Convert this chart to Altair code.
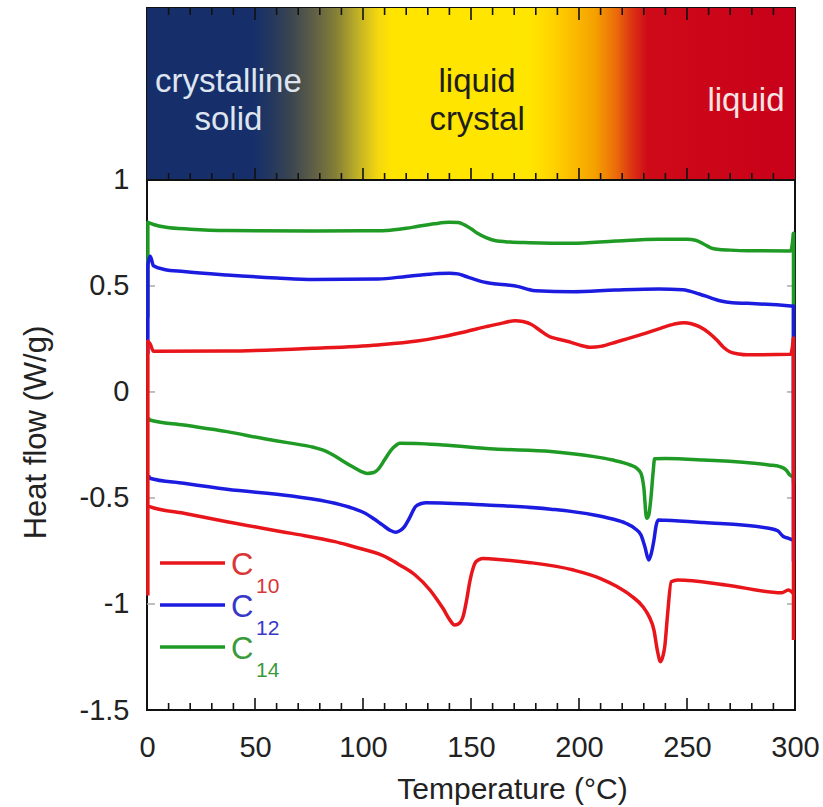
import altair as alt
import pandas as pd

# ---------------------------------------------------------------- data
# DSC traces: heating (upper) and cooling (lower) branches, (T in °C, heat flow in W/g)
C10_HEAT = [(0.4, 0.24), (1.5, 0.225), (3, 0.192), (37, 0.193), (77, 0.206), (107, 0.222),
            (125, 0.240), (137, 0.261), (147, 0.283), (157, 0.308), (165, 0.326), (170.4, 0.336),
            (174, 0.332), (178, 0.318), (182, 0.290), (186, 0.263), (190, 0.250), (195, 0.238),
            (200, 0.222), (205.6, 0.211), (210, 0.215), (217.6, 0.237), (228, 0.268), (237.7, 0.300),
            (244, 0.320), (248.7, 0.327), (252, 0.322), (255.7, 0.308), (260, 0.280), (263.8, 0.245),
            (267, 0.210), (269.8, 0.190), (274, 0.179), (277.8, 0.175), (298, 0.178), (299.3, 0.255)]
C10_COOL = [(1.0, -0.54), (1.2, -0.541), (17, -0.572), (37, -0.612), (67, -0.667), (87, -0.706),
            (93, -0.722), (100, -0.742), (107, -0.763), (112, -0.786), (117, -0.816), (124, -0.862),
            (131, -0.934), (134, -0.975), (137.3, -1.025), (140, -1.072), (142.3, -1.099), (144, -1.095),
            (146.3, -1.060), (148, -0.98), (149.3, -0.902), (151, -0.83), (152.4, -0.800), (155.4, -0.785),
            (160, -0.788), (177.5, -0.805), (197.5, -0.840), (210, -0.880), (217.6, -0.918), (224, -0.96),
            (229.6, -1.013), (232.5, -1.06), (234.7, -1.123), (236.3, -1.22), (237.7, -1.272), (239, -1.24),
            (239.7, -1.201), (241, -1.05), (242.7, -0.895), (245.7, -0.887), (267.8, -0.910),
            (293.9, -0.947), (296.9, -0.934), (299.3, -0.95)]

C12_HEAT = [(0.4, 0.60), (1.5, 0.64), (3, 0.595), (8, 0.578), (17, 0.568), (37, 0.552), (60, 0.538),
            (77, 0.531), (107, 0.533), (120, 0.545), (127, 0.552), (135, 0.559), (140, 0.560),
            (144, 0.557), (147, 0.547), (152, 0.530), (157, 0.516), (162, 0.509), (167, 0.505),
            (172, 0.497), (176, 0.485), (180, 0.477), (197, 0.473), (217, 0.481), (237, 0.486),
            (248, 0.482), (255.7, 0.462), (261, 0.444), (265.7, 0.429), (271, 0.421), (278, 0.418),
            (298, 0.406), (299.3, 0.405)]
C12_COOL = [(1.0, -0.40), (1.2, -0.407), (17, -0.431), (37, -0.459), (67, -0.491), (87, -0.525),
            (95, -0.548), (101, -0.572), (105, -0.598), (109, -0.627), (112.5, -0.652), (115.2, -0.662),
            (117.5, -0.652), (119.2, -0.635), (121.5, -0.595), (124.3, -0.541), (127, -0.526),
            (129.3, -0.522), (157, -0.533), (187, -0.553), (207, -0.580), (215, -0.598), (221.6, -0.619),
            (226, -0.645), (228.7, -0.675), (230.5, -0.73), (232.3, -0.792), (233.5, -0.76),
            (234.7, -0.698), (235.7, -0.63), (236.7, -0.604), (240, -0.605), (257.7, -0.616),
            (287.9, -0.643), (292, -0.655), (294.6, -0.682), (297, -0.69), (299.3, -0.70)]

C14_HEAT = [(0.4, 0.80), (3, 0.79), (8.8, 0.777), (20, 0.768), (37, 0.761), (77, 0.759), (100, 0.760),
            (111, 0.762), (120, 0.772), (125, 0.780), (133, 0.793), (140, 0.800), (144, 0.799),
            (147, 0.788), (150, 0.770), (153, 0.749), (157, 0.728), (161, 0.714), (168, 0.707),
            (177, 0.704), (197, 0.701), (217, 0.712), (237, 0.720), (250, 0.720), (254, 0.716),
            (257.7, 0.698), (261, 0.680), (264, 0.673), (270, 0.669), (278, 0.666), (298, 0.665),
            (299.3, 0.749)]
C14_COOL = [(1.0, -0.128), (1.2, -0.132), (17, -0.156), (37, -0.187), (55, -0.222), (65, -0.239),
            (77, -0.261), (83, -0.280), (87, -0.302), (91, -0.328), (95, -0.352), (99, -0.374),
            (102, -0.384), (105, -0.380), (107, -0.365), (110, -0.320), (113, -0.274), (115.5, -0.250),
            (117, -0.242), (125, -0.243), (137, -0.250), (161, -0.269), (187, -0.281), (207, -0.305),
            (215, -0.320), (223.6, -0.344), (227, -0.362), (228.7, -0.384), (230, -0.45), (231.3, -0.596),
            (232.3, -0.58), (233.3, -0.50), (234.3, -0.38), (235, -0.315), (240, -0.314), (257.7, -0.321),
            (287.9, -0.344), (293, -0.352), (295.9, -0.368), (297.5, -0.39), (299.3, -0.40)]

# isothermal holds at the start (0 °C) and at the turning point (300 °C): (T, from, to)
C10_HOLDS = [(0.4, -0.96, 0.24), (299.3, 0.255, -1.17)]
C12_HOLDS = [(0.4, 0.18, 0.60), (299.3, 0.405, -0.80)]
C14_HOLDS = [(0.4, 0.35, 0.80), (299.3, 0.749, -0.431)]

SERIES = ["10", "12", "14"]
LINE_COLORS = ["#e8161b", "#1c1ce0", "#1f9a24"]
TEXT_COLORS = ["#d93636", "#3737c8", "#3a9a3a"]

# phase band across the top
PHASE_LABELS = ["crystalline\nsolid", "liquid\ncrystal", "liquid"]
PHASE_T = [37.7, 152.8, 277.3]
PHASE_Q = [1.462, 1.462, 1.3726]
PHASE_COLORS = ["#dfe5ef", "#1e1e1e", "#f6e4e4"]
BAND_STOPS = [(0.0, "#162f6b"), (0.163, "#162f6b"), (0.19, "#23375f"), (0.223, "#3c4650"),
              (0.257, "#5f5f46"), (0.29, "#827d37"), (0.324, "#beaf28"), (0.357, "#f5d70f"),
              (0.377, "#ffe400"), (0.591, "#ffe600"), (0.625, "#ffd400"), (0.658, "#fbbb00"),
              (0.692, "#f5a000"), (0.725, "#ea6a0a"), (0.745, "#de3a12"), (0.772, "#cf0a18"),
              (1.0, "#c8001a")]

X_TICKS = [0, 50, 100, 150, 200, 250, 300]
X_MINOR = [t for t in range(10, 300, 10) if t % 50]
Y_TICKS = [-1.5, -1, -0.5, 0, 0.5, 1]

# ---------------------------------------------------------------- layout
W, H = 648, 702
Y_LO, Y_HI, BAND_TOP = -1.5, 1.0, 1.811
BAND_PX = 172          # pixel row of the band / plot boundary
FONT = "Liberation Sans"

xs = alt.Scale(domain=[0, 300], nice=False, zero=False)
ys = alt.Scale(domain=[Y_LO, BAND_TOP], nice=False, zero=False)

x_axis = alt.Axis(values=X_TICKS, ticks=False, domain=False, grid=False, labelFlush=False,
                  labelFontSize=29, labelPadding=23, labelColor="#222", labelOverlap=False,
                  title="Temperature (°C)", titleFontSize=30, titleFontWeight="normal",
                  titleColor="#222", titleX=365, titleY=88, titleAlign="center",
                  titleBaseline="alphabetic")
y_axis = alt.Axis(values=Y_TICKS, ticks=False, domain=False, grid=False, labelFontSize=29,
                  labelPadding=18, labelColor="#222", labelOverlap=False,
                  labelExpr="datum.value < 0 ? '-' + format(-datum.value, '~g') : format(datum.value, '~g')",
                  title="Heat flow (W/g)", titleFontSize=31, titleFontWeight="normal",
                  titleColor="#222", titleAngle=270, titleX=-102, titleY=424,
                  titleAlign="center", titleBaseline="alphabetic")

# gradient band
band_df = pd.DataFrame({"t0": [0], "t1": [300], "q0": [Y_HI], "q1": [BAND_TOP]})
band = alt.Chart(band_df).mark_rect(
    fill=alt.Gradient(gradient="linear", x1=0, x2=1, y1=0, y2=0,
                      stops=[alt.GradientStop(offset=o, color=c) for o, c in BAND_STOPS])
).encode(
    x=alt.X("t0:Q", scale=xs, axis=x_axis),
    x2="t1:Q",
    y=alt.Y("q0:Q", scale=ys, axis=y_axis),
    y2="q1:Q",
)

phase_df = pd.DataFrame({"label": PHASE_LABELS, "t": PHASE_T, "col": PHASE_COLORS, "q": PHASE_Q})
phase_text = alt.Chart(phase_df).mark_text(
    fontSize=33, lineBreak="\n", lineHeight=38, align="center", baseline="middle", font=FONT
).encode(x=alt.X("t:Q", scale=xs), y=alt.Y("q:Q", scale=ys),
         text="label:N", color=alt.Color("col:N", scale=None))

separator = alt.Chart(pd.DataFrame({"q": [Y_HI]})).mark_rule(color="#111", strokeWidth=2).encode(
    y=alt.Y("q:Q", scale=ys), x=alt.value(0), x2=alt.value(W))

# tick marks (inward)
major_df = pd.DataFrame({"t": X_TICKS[1:-1]})
minor_df = pd.DataFrame({"t": X_MINOR})
tick_layers = []
for df, ln in [(major_df, 12), (minor_df, 7)]:
    for y0, y1 in [(H, H - ln), (BAND_PX, BAND_PX - ln), (0, ln)]:
        tick_layers.append(
            alt.Chart(df).mark_rule(color="#111", strokeWidth=1.6).encode(
                x=alt.X("t:Q", scale=xs), y=alt.value(y0), y2=alt.value(y1)))
ytick_df = pd.DataFrame({"q": [-1, -0.5, 0, 0.5]})
for x0, x1 in [(0, 8), (W, W - 8)]:
    tick_layers.append(
        alt.Chart(ytick_df).mark_rule(color="#aaaaaa", strokeWidth=1.5).encode(
            y=alt.Y("q:Q", scale=ys), x=alt.value(x0), x2=alt.value(x1)))

# DSC curves, drawn C14 first so C10 sits on top
curve_layers = []
branches = {"10": (C10_HEAT, C10_COOL, C10_HOLDS),
            "12": (C12_HEAT, C12_COOL, C12_HOLDS),
            "14": (C14_HEAT, C14_COOL, C14_HOLDS)}
for idx in [2, 1, 0]:
    key = SERIES[idx]
    heat, cool, holds = branches[key]
    col = LINE_COLORS[idx]
    for branch in (heat, cool):
        df = pd.DataFrame(branch, columns=["t", "q"])
        curve_layers.append(
            alt.Chart(df).mark_line(color=col, strokeWidth=3.5, interpolate="monotone",
                                    strokeJoin="round", strokeCap="round").encode(
                x=alt.X("t:Q", scale=xs), y=alt.Y("q:Q", scale=ys)))
    hold_df = pd.DataFrame(holds, columns=["t", "q0", "q1"])
    curve_layers.append(
        alt.Chart(hold_df).mark_rule(color=col, strokeWidth=3.5).encode(
            x=alt.X("t:Q", scale=xs), y=alt.Y("q0:Q", scale=ys), y2="q1:Q"))

# legend: C with subscripted carbon number
legend_layers = []
one = pd.DataFrame({"k": [0]})
for i, key in enumerate(SERIES):
    base = 555 + 42 * i
    legend_layers.append(
        alt.Chart(one).mark_rule(color=LINE_COLORS[i], strokeWidth=3.5).encode(
            x=alt.value(13), x2=alt.value(78), y=alt.value(base)))
    legend_layers.append(
        alt.Chart(one).mark_text(text="C", fontSize=31, align="left", baseline="alphabetic",
                                 color=TEXT_COLORS[i], font=FONT).encode(
            x=alt.value(84), y=alt.value(base + 12)))
    legend_layers.append(
        alt.Chart(one).mark_text(text=key, fontSize=21, align="left", baseline="alphabetic",
                                 color=TEXT_COLORS[i], font=FONT).encode(
            x=alt.value(109), y=alt.value(base + 30)))

chart = alt.layer(band, phase_text, separator, *tick_layers, *curve_layers, *legend_layers).properties(
    width=W, height=H,
    autosize=alt.AutoSizeParams(type="none"),
    padding={"left": 147, "top": 8, "right": 28, "bottom": 97},
).configure(font=FONT).configure_view(stroke="#111", strokeWidth=2)

chart.save("out.html", embed_options={"renderer": "svg", "actions": False})
